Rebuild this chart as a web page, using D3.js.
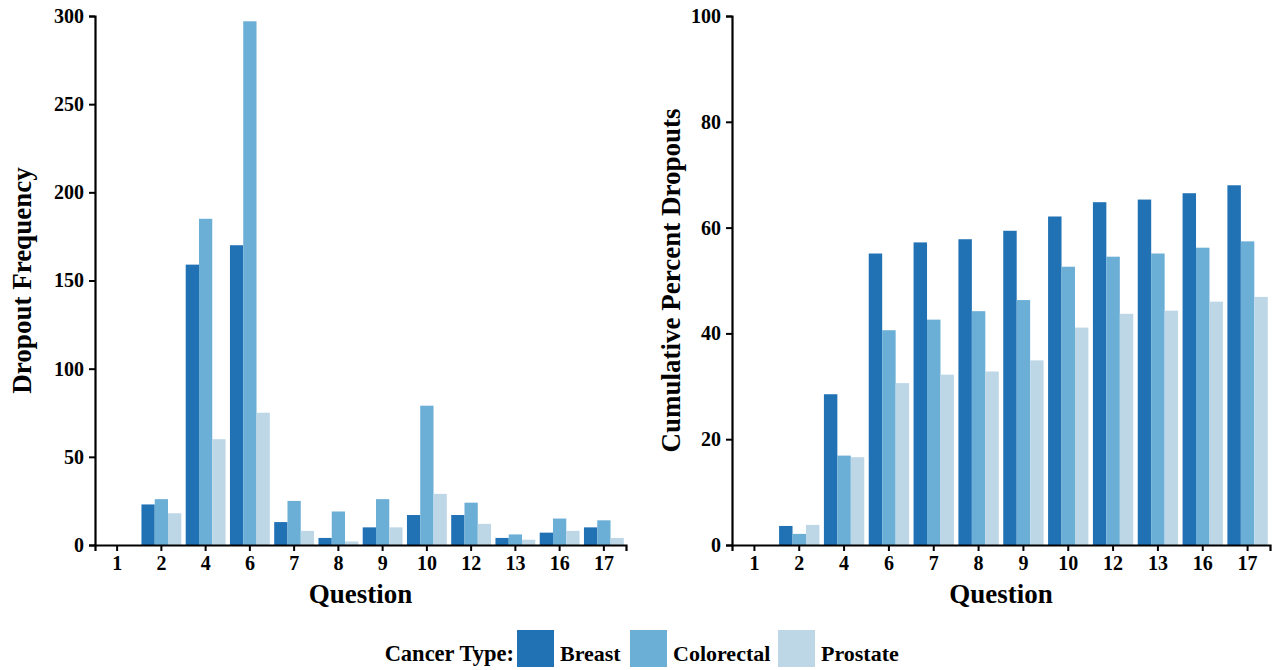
<!DOCTYPE html>
<html>
<head>
<meta charset="utf-8">
<script src="https://cdn.jsdelivr.net/npm/d3@7"></script>
<style>
  html, body { margin: 0; padding: 0; background: #fff; }
  svg text { font-family: "Liberation Serif", "Times New Roman", serif; font-weight: bold; fill: #000; }
</style>
</head>
<body>
<svg id="chart" width="1272" height="670"></svg>
<script>
// ---- data ----
const questions = ["1", "2", "4", "6", "7", "8", "9", "10", "12", "13", "16", "17"];
const cancerTypes = ["Breast", "Colorectal", "Prostate"];
const colors = ["#2171b5", "#6baed6", "#bdd7e7"];

// Dropout frequency
const freqBreast     = [0, 23, 159, 170, 13, 4, 10, 17, 17, 4, 7, 10];
const freqColorectal = [0, 26, 185, 297, 25, 19, 26, 79, 24, 6, 15, 14];
const freqProstate   = [0, 18, 60, 75, 8, 2, 10, 29, 12, 3, 8, 4];

// Cumulative percent dropouts
const cumBreast     = [0, 3.6, 28.5, 55.1, 57.2, 57.8, 59.4, 62.1, 64.8, 65.3, 66.5, 68.0];
const cumColorectal = [0, 2.1, 16.9, 40.6, 42.6, 44.2, 46.3, 52.6, 54.5, 55.1, 56.2, 57.4];
const cumProstate   = [0, 3.8, 16.6, 30.6, 32.2, 32.8, 34.9, 41.1, 43.7, 44.3, 46.0, 46.9];

const freqTicks = [0, 50, 100, 150, 200, 250, 300];
const cumTicks = [0, 20, 40, 60, 80, 100];

const svg = d3.select("#chart");

function panel(cfg) {
  const series = cfg.series;
  const x = d3.scaleBand().domain(questions).range([cfg.x0, cfg.x1]).paddingInner(0.1).paddingOuter(0.05);
  const xs = d3.scaleBand().domain(cancerTypes).range([0, x.bandwidth()]);
  const y = d3.scaleLinear().domain(cfg.domain).range([cfg.yBottom, cfg.yTop]);
  const color = d3.scaleOrdinal().domain(cancerTypes).range(colors);

  const rows = [];
  questions.forEach((q, i) => {
    cancerTypes.forEach((c, j) => rows.push({ q, c, v: series[j][i] }));
  });

  const g = svg.append("g");
  g.selectAll("rect").data(rows).join("rect")
    .attr("x", d => x(d.q) + xs(d.c))
    .attr("width", xs.bandwidth())
    .attr("y", d => y(d.v))
    .attr("height", d => y(0) - y(d.v))
    .attr("fill", d => color(d.c));

  const xAxis = g.append("g")
    .attr("transform", `translate(0,${cfg.yBottom})`)
    .call(d3.axisBottom(x).tickSizeOuter(0).tickSize(6).tickPadding(5));
  const yAxis = g.append("g")
    .attr("transform", `translate(${cfg.x0},0)`)
    .call(d3.axisLeft(y).tickValues(cfg.ticks).tickSizeOuter(0).tickSize(6).tickPadding(5));

  [xAxis, yAxis].forEach(a => {
    a.select(".domain").attr("stroke", "#000").attr("stroke-width", 2.2);
    a.selectAll(".tick line").attr("stroke", "#000").attr("stroke-width", 2);
    a.selectAll(".tick text").style("font-size", "20px")
      .style("font-family", '"Liberation Serif", "Times New Roman", serif')
      .style("font-weight", "bold").attr("fill", "#000");
  });

  g.append("text")
    .attr("x", (cfg.x0 + cfg.x1) / 2)
    .attr("y", 603)
    .attr("text-anchor", "middle")
    .style("font-size", "27px")
    .text("Question");

  g.append("text")
    .attr("transform", `translate(${cfg.titleX},${(cfg.yTop + cfg.yBottom) / 2}) rotate(-90)`)
    .attr("text-anchor", "middle")
    .style("font-size", "27px")
    .text(cfg.title);
}

panel({
  series: [freqBreast, freqColorectal, freqProstate],
  x0: 95, x1: 626, yTop: 16, yBottom: 545,
  domain: [0, 300], ticks: freqTicks,
  title: "Dropout Frequency", titleX: 31
});

panel({
  series: [cumBreast, cumColorectal, cumProstate],
  x0: 732, x1: 1270, yTop: 16, yBottom: 545,
  domain: [0, 100], ticks: cumTicks,
  title: "Cumulative Percent Dropouts", titleX: 680
});

// ---- legend ----
const legend = svg.append("g");
legend.append("text")
  .attr("x", 514).attr("y", 661)
  .attr("text-anchor", "end")
  .style("font-size", "22.5px")
  .text("Cancer Type:");
const keyX = [517, 630, 778];
cancerTypes.forEach((c, i) => {
  legend.append("rect")
    .attr("x", keyX[i]).attr("y", 630)
    .attr("width", 37).attr("height", 37)
    .attr("fill", colors[i]);
  legend.append("text")
    .attr("x", keyX[i] + 43).attr("y", 661)
    .style("font-size", "22px")
    .text(c);
});
</script>
</body>
</html>
